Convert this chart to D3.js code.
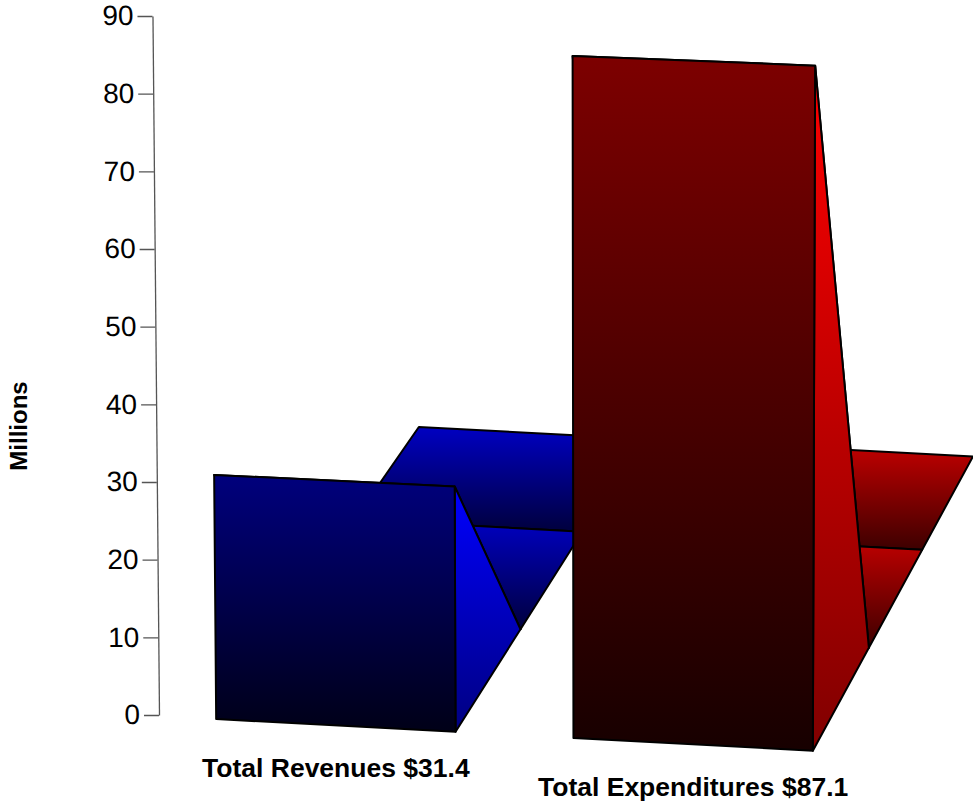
<!DOCTYPE html>
<html>
<head>
<meta charset="utf-8">
<script src="https://cdn.jsdelivr.net/npm/d3@7"></script>
<style>
  body { margin: 0; background: #fff; }
  svg { display: block; font-family: "Liberation Sans", Arial, sans-serif; }
</style>
</head>
<body>
<svg width="973" height="803"></svg>
<script>
// chart data
const categories = ["Total Revenues", "Total Expenditures"];
const values = [31.4, 87.1];
const labels = ["Total Revenues $31.4", "Total Expenditures $87.1"];
const yTicks = [0, 10, 20, 30, 40, 50, 60, 70, 80, 90];
const depthSteps = [0, 1, 2, 3];
const baseColors = [[0, 0, 255], [255, 0, 0]];

const svg = d3.select("svg");

const xScale = d3.scaleBand().domain(categories).range([159, 870])
   .paddingInner(0.33).paddingOuter(0.16),
   yScale = d3.scaleLinear().domain([0, 90]).range([715, 16]);

// fake perspective: front plane is a little tilted, depth runs to a far vanishing point
const vp = [3058, -3375];
function front(u, h) {
   const lift = yScale(0) - yScale(h);
   return [u + (u - 638) * lift / 51300,
      yScale(h) + 1 + (u - 159) * (0.053 - 0.00015 * h)];
}
function project(u, h, d) {
   const p = front(u, h), s = 1 / (1 + 0.0256 * d);
   return [vp[0] + (p[0] - vp[0]) * s, vp[1] + (p[1] - vp[1]) * s];
}

const defs = svg.append("defs");
function shade(c, k) {
   return d3.rgb(c[0] * k, c[1] * k, c[2] * k).formatHex();
}
function gradient(id, top, bottom) {
   const g = defs.append("linearGradient").attr("id", id)
      .attr("x1", 0).attr("y1", 0).attr("x2", 0).attr("y2", 1);
   g.append("stop").attr("offset", "0%").attr("stop-color", top);
   g.append("stop").attr("offset", "100%").attr("stop-color", bottom);
}
baseColors.forEach(function (c, i) {
   gradient("front" + i, shade(c, 0.49), shade(c, 0.09));
   gradient("side" + i, shade(c, 1), shade(c, 0.5));
   gradient("floor" + i, shade(c, 0.76), shade(c, 0.24));
});

// y axis, leaning slightly like the front plane
const lean = Math.atan((front(159, 0)[0] - front(159, 90)[0]) / (yScale(0) - yScale(90))) * 180 / Math.PI;
const axis = svg.append("g")
   .attr("transform", "translate(" + front(159, 0)[0] + "," + yScale(0) + ") skewX(" + lean + ") translate(0," + (-yScale(0)) + ")")
   .call(d3.axisLeft(yScale).tickValues(yTicks).tickSize(15).tickSizeOuter(0).tickPadding(4));
axis.selectAll("path, line").attr("stroke", "#555").attr("stroke-width", 1.3);
axis.selectAll("text").attr("font-size", 28).attr("fill", "#000")
   .attr("font-family", "'Liberation Sans', Arial, sans-serif");

svg.append("text")
   .attr("transform", "translate(27,426) rotate(-90)")
   .attr("text-anchor", "middle")
   .attr("font-weight", "bold").attr("font-size", 24)
   .text("Millions");

// each series is a 3d area running back in depth: full value at the front, zero behind
const line = d3.line();
const g = svg.append("g");
categories.forEach(function (cat, i) {
   const u0 = xScale(cat), u1 = u0 + xScale.bandwidth();
   const h = depthSteps.map(function (d) { return d === 0 ? values[i] : 0; });
   const faces = [];
   for (let k = depthSteps.length - 2; k >= 0; k--) {
      const a = depthSteps[k], b = depthSteps[k + 1];
      faces.push({
         fill: "floor" + i,
         pts: [project(u0, h[k], a), project(u1, h[k], a), project(u1, h[k + 1], b), project(u0, h[k + 1], b)]
      });
   }
   for (let k = depthSteps.length - 2; k >= 0; k--) {
      if (h[k] === 0 && h[k + 1] === 0) continue;
      const a = depthSteps[k], b = depthSteps[k + 1];
      faces.push({
         fill: "side" + i,
         pts: [project(u1, 0, a), project(u1, h[k], a), project(u1, h[k + 1], b), project(u1, 0, b)]
      });
   }
   faces.push({
      fill: "front" + i,
      pts: [project(u0, 0, 0), project(u1, 0, 0), project(u1, values[i], 0), project(u0, values[i], 0)]
   });

   g.selectAll(".face" + i)
      .data(faces)
      .enter().append("path")
      .attr("class", "face" + i)
      .attr("d", function (f) { return line(f.pts) + "Z"; })
      .attr("fill", function (f) { return "url(#" + f.fill + ")"; })
      .attr("stroke", "#000")
      .attr("stroke-width", 2)
      .attr("stroke-linejoin", "round");

   const mid = u0 + xScale.bandwidth() / 2;
   svg.append("text")
      .attr("x", mid)
      .attr("y", front(mid, 0)[1] + 52)
      .attr("text-anchor", "middle")
      .attr("font-weight", "bold").attr("font-size", 26.5)
      .text(labels[i]);
});
</script>
</body>
</html>
